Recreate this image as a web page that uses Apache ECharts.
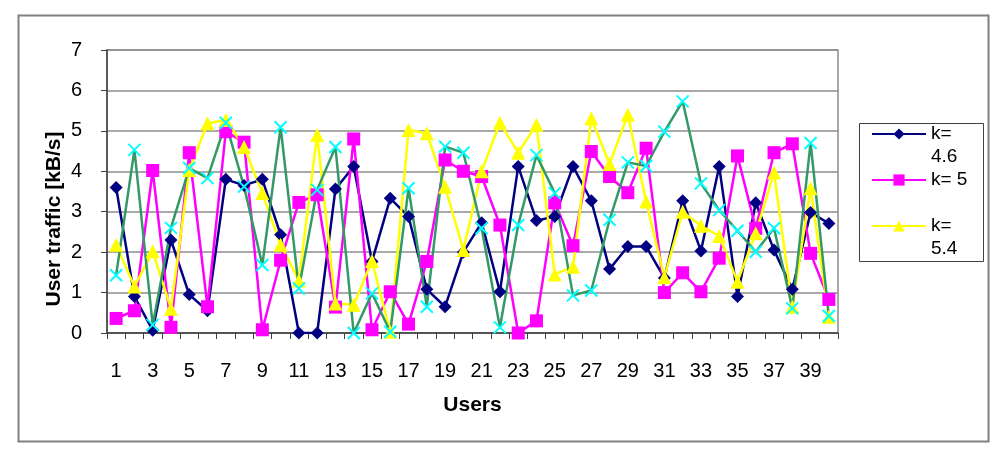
<!DOCTYPE html>
<html>
<head>
<meta charset="utf-8">
<script src="https://cdn.jsdelivr.net/npm/echarts@6/dist/echarts.min.js"></script>
<style>
html,body{margin:0;padding:0;background:#fff;}
#c{width:1000px;height:450px;}
</style>
</head>
<body>
<div id="c"></div>
<script>
var users = [];
for (var i = 1; i <= 40; i++) users.push(String(i));

var seriesNames = ['k= 4.6', 'k= 5', 'k= 5.4', 'k= 5.8'];
var legendLabels = ['\nk=\n4.6', 'k= 5', '\nk=\n5.4'];

var k46 = [3.6,0.9,0.07,2.3,0.95,0.55,3.8,3.65,3.8,2.43,0,0,3.56,4.12,1.77,3.33,2.88,1.08,0.65,2.0,2.73,1.02,4.12,2.78,2.88,4.12,3.27,1.58,2.14,2.14,1.36,3.27,2.03,4.12,0.9,3.22,2.05,1.08,2.98,2.71];
var k5 = [0.36,0.55,4.02,0.14,4.46,0.65,4.98,4.72,0.08,1.8,3.23,3.42,0.64,4.8,0.08,1.02,0.22,1.77,4.28,4.0,3.87,2.67,0.0,0.3,3.22,2.16,4.49,3.87,3.47,4.57,1.0,1.49,1.02,1.85,4.38,2.59,4.46,4.68,1.97,0.83];
var k54 = [2.18,1.15,2.02,0.6,4.03,5.19,5.27,4.6,3.46,2.18,1.3,4.9,0.73,0.7,1.78,0.03,5.02,4.94,3.62,2.05,4.0,5.2,4.46,5.15,1.45,1.64,5.31,4.18,5.4,3.25,1.38,3.0,2.65,2.4,1.27,2.47,3.97,0.65,3.58,0.4];
var k58 = [1.43,4.53,0.2,2.6,4.08,3.83,5.2,3.62,1.68,5.09,1.1,3.54,4.6,0.0,0.98,0.03,3.58,0.65,4.61,4.46,2.59,0.14,2.67,4.4,3.46,0.93,1.05,2.8,4.22,4.13,4.98,5.73,3.7,3.04,2.53,2.01,2.59,0.61,4.7,0.42];

var FONT = '"Liberation Sans", Arial, sans-serif';
var chart = echarts.init(document.getElementById('c'), null, {renderer: 'canvas'});

function lineSeries(name, data, color, symbol, size, extra) {
  var s = {
    name: name, type: 'line', data: data,
    symbol: symbol, symbolSize: size,
    showSymbol: true, showAllSymbol: true,
    lineStyle: {color: color, width: 2.5},
    itemStyle: {color: color},
    emphasis: {disabled: true}
  };
  if (extra) { for (var k in extra) s[k] = extra[k]; }
  return s;
}

var option = {
  animation: false,
  backgroundColor: '#ffffff',
  textStyle: {fontFamily: FONT},
  grid: {left: 107, right: 162, top: 50, bottom: 117, show: true, borderColor: '#8c8c8c', borderWidth: 1.5, backgroundColor: 'transparent'},
  legend: {
    orient: 'vertical', left: 871, top: 99.5,
    itemWidth: 54, itemHeight: 14, itemGap: 0, padding: 0,
    selectedMode: false,
    textStyle: {fontFamily: FONT, fontSize: 19, lineHeight: 23, color: '#000'},
    formatter: function (name) { return legendLabels[seriesNames.indexOf(name)]; },
    data: [seriesNames[0], seriesNames[1], seriesNames[2]]
  },
  xAxis: {
    type: 'category', data: users, boundaryGap: true,
    name: 'Users', nameLocation: 'middle', nameGap: 62,
    nameTextStyle: {fontFamily: FONT, fontSize: 21, fontWeight: 'bold', color: '#000'},
    axisLine: {lineStyle: {color: '#404040', width: 1.5}},
    axisTick: {show: true, interval: 0, length: 6, lineStyle: {color: '#404040', width: 1}},
    axisLabel: {interval: 1, margin: 28, fontFamily: FONT, fontSize: 20, color: '#000'},
    splitLine: {show: false}
  },
  yAxis: {
    type: 'value', min: 0, max: 7, interval: 1,
    axisLine: {show: true, lineStyle: {color: '#404040', width: 1.5}},
    axisTick: {show: true, length: 6, lineStyle: {color: '#404040', width: 1}},
    axisLabel: {margin: 25, fontFamily: FONT, fontSize: 20, color: '#000'},
    splitLine: {show: true, lineStyle: {color: '#8c8c8c', width: 1.5}}
  },
  graphic: [
    {type: 'rect', left: 16, top: 13, shape: {x: 0, y: 0, width: 970, height: 426}, style: {fill: 'none', stroke: '#808080', lineWidth: 2}, silent: true, z: -10},
    {type: 'rect', left: 857, top: 121, shape: {x: 0, y: 0, width: 124, height: 138}, style: {fill: 'none', stroke: '#404040', lineWidth: 1}, silent: true},
    {type: 'text', x: 54, y: 219, rotation: Math.PI / 2, style: {text: 'User traffic [kB/s]', fontFamily: FONT, fontSize: 21, fontWeight: 'bold', fill: '#000', align: 'center', verticalAlign: 'middle'}, silent: true}
  ],
  series: [
    lineSeries(seriesNames[0], k46, '#000080', 'diamond', 13),
    lineSeries(seriesNames[1], k5, '#FF00FF', 'rect', 13),
    lineSeries(seriesNames[2], k54, '#FFFF00', 'triangle', 14),
    lineSeries(seriesNames[3], k58, '#339966', 'path://M0,0L10,10M10,0L0,10', 12, {
      lineStyle: {color: '#339966', width: 2.5},
      itemStyle: {color: 'rgba(0,0,0,0)', borderColor: '#00FFFF', borderWidth: 2}
    })
  ]
};
chart.setOption(option);
</script>
</body>
</html>
